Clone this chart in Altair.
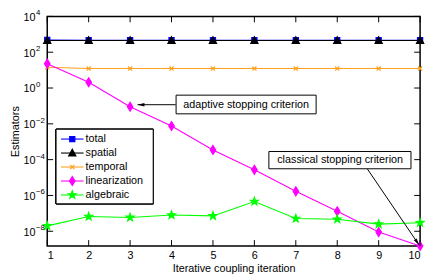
import altair as alt
import pandas as pd
import numpy as np

# ---------------- data ----------------
iters = [1, 2, 3, 4, 5, 6, 7, 8, 9, 10]
series_names = ["total", "spatial", "temporal", "linearization", "algebraic"]
total = [480, 465, 465, 465, 465, 465, 465, 465, 465, 465]
spatial = [455, 450, 450, 450, 450, 450, 450, 450, 450, 450]
temporal = [14.5, 12.2, 12.2, 12.2, 12.2, 12.2, 12.2, 12.2, 12.2, 12.2]
linearization = [23, 2.1, 0.09, 7.6e-3, 3.5e-4, 2.7e-5, 1.7e-6, 1.3e-7, 9e-9, 1.5e-9]
algebraic = [2.0e-8, 6.6e-8, 5.9e-8, 8.0e-8, 7.2e-8, 4.6e-7, 5.1e-8, 4.7e-8, 2.5e-8, 3.0e-8]

y_tick_vals = [1e4, 1e2, 1e0, 1e-2, 1e-4, 1e-6, 1e-8]
y_tick_exp = ["4", "2", "0", "\u22122", "\u22124", "\u22126", "\u22128"]

ann_text = ["adaptive stopping criterion", "classical stopping criterion"]
ann_x = [5.80, 8.07]
ann_y = [0.117, 9.4e-5]
box_x1 = [4.11, 6.35]
box_x2 = [7.49, 9.78]
box_y1 = [0.40, 2.85e-4]
box_y2 = [0.0362, 3.09e-5]
arrow_x1 = [4.10, 8.72]
arrow_y1 = [0.117, 3.2e-5]
arrow_x2 = [3.18, 9.976]
arrow_y2 = [0.117, 1.7e-9]

# ---------------- styling ----------------
colors = ["#0000ff", "#000000", "#ffa020", "#ff00ff", "#00ff00"]
FONT = "Liberation Sans"

def star(r_out=1.2, r_in=0.48):
    pts = []
    for k in range(10):
        r = r_out if k % 2 == 0 else r_in
        a = np.deg2rad(-90 + 36 * k)
        pts.append((r * np.cos(a), r * np.sin(a)))
    return "M" + "L".join(f"{x:.3f},{y:.3f}" for x, y in pts) + "Z"

marker_paths = [
    "M-0.75,-0.75H0.75V0.75H-0.75Z",
    "M0,-1.1L1.05,0.85H-1.05Z",
    "M-0.6,-0.6L0.6,0.6M-0.6,0.6L0.6,-0.6",
    "M0,-1.3L0.8,0L0,1.3L-0.8,0Z",
    star(),
]

W, H = 380, 234
ymin, ymax = 1.5e-9, 1e4

all_vals = [total, spatial, temporal, linearization, algebraic]
rows = []
for name, vals in zip(series_names, all_vals):
    for i, v in zip(iters, vals):
        rows.append({"iter": i, "value": v, "series": name})
df = pd.DataFrame(rows)

xs = alt.Scale(domain=[1, 10], nice=False, zero=False)
ys = alt.Scale(type="log", domain=[ymin, ymax], nice=False)

X = alt.X("iter:Q", scale=xs,
          axis=alt.Axis(values=iters, format="d", ticks=False, tickSize=0, domain=False, grid=False,
                        labelFont=FONT, labelFontSize=11, labelColor="black", labelPadding=4,
                        title="Iterative coupling iteration", titleFont=FONT, titleFontSize=11,
                        titleFontWeight="normal", titleColor="black", titleBaseline="alphabetic",
                        titleY=26))
Y = alt.Y("value:Q", scale=ys,
          axis=alt.Axis(labels=False, ticks=False, domain=False, grid=False,
                        title="Estimators", titleFont=FONT, titleFontSize=11,
                        titleFontWeight="normal", titleColor="black", titleX=-32, titleY=H / 2,
                        titleBaseline="middle", titleAlign="center", titleAngle=270))

sc_color = alt.Scale(domain=series_names, range=colors)
sc_shape = alt.Scale(domain=series_names, range=marker_paths)

lines = alt.Chart(df).mark_line(strokeWidth=1.1).encode(
    x=X, y=Y,
    stroke=alt.Stroke("series:N", scale=sc_color, legend=None),
    detail="series:N",
)

marker_layers = []
for name, col, path in zip(series_names, colors, marker_paths):
    marker_layers.append(
        alt.Chart(df).transform_filter(alt.datum.series == name)
        .mark_point(shape=path, size=49, opacity=1, strokeWidth=1.2, fill=col, stroke=col)
        .encode(x="iter:Q", y="value:Q")
    )

# ticks (inward, MATLAB style)
xt = pd.DataFrame({"iter": iters})
yt = pd.DataFrame({"value": y_tick_vals, "exp": y_tick_exp})
tk = 6
xt_bot = alt.Chart(xt).mark_rule(color="black", strokeWidth=1).encode(
    x=alt.X("iter:Q", scale=xs), y=alt.value(H), y2=alt.value(H - tk))
xt_top = alt.Chart(xt).mark_rule(color="black", strokeWidth=1).encode(
    x=alt.X("iter:Q", scale=xs), y=alt.value(0), y2=alt.value(tk))
yt_left = alt.Chart(yt).mark_rule(color="black", strokeWidth=1).encode(
    y=alt.Y("value:Q", scale=ys), x=alt.value(0), x2=alt.value(tk))
yt_right = alt.Chart(yt).mark_rule(color="black", strokeWidth=1).encode(
    y=alt.Y("value:Q", scale=ys), x=alt.value(W), x2=alt.value(W - tk))

ylab_base = alt.Chart(yt).mark_text(font=FONT, fontSize=11, align="right", baseline="middle",
                                     dy=1.5, color="black").encode(
    y=alt.Y("value:Q", scale=ys), x=alt.value(-12), text=alt.value("10"))
ylab_exp = alt.Chart(yt).mark_text(font=FONT, fontSize=8, align="left", baseline="middle",
                                    dy=-3, color="black").encode(
    y=alt.Y("value:Q", scale=ys), x=alt.value(-11.5), text="exp:N")

# annotations
ann = pd.DataFrame({"text": ann_text, "x": ann_x, "y": ann_y,
                    "bx1": box_x1, "bx2": box_x2, "by1": box_y1, "by2": box_y2,
                    "ax1": arrow_x1, "ay1": arrow_y1, "ax2": arrow_x2, "ay2": arrow_y2,
                    "ang": [270, 146]})
arrow_lines = alt.Chart(ann).mark_rule(color="black", strokeWidth=1).encode(
    x=alt.X("ax1:Q", scale=xs), y=alt.Y("ay1:Q", scale=ys),
    x2="ax2:Q", y2="ay2:Q")
arrow_heads = alt.Chart(ann).mark_point(shape="M0,0L-0.5,2L0.5,2Z", size=49, filled=True,
                                        color="black", opacity=1).encode(
    x=alt.X("ax2:Q", scale=xs), y=alt.Y("ay2:Q", scale=ys),
    angle=alt.Angle("ang:Q", scale=None))
boxes = alt.Chart(ann).mark_rect(fill="white", stroke="black", strokeWidth=1).encode(
    x=alt.X("bx1:Q", scale=xs), x2="bx2:Q",
    y=alt.Y("by1:Q", scale=ys), y2="by2:Q")
texts = alt.Chart(ann).mark_text(font=FONT, fontSize=11, color="black", baseline="middle").encode(
    x=alt.X("x:Q", scale=xs), y=alt.Y("y:Q", scale=ys), text="text:N")

plot = alt.layer(
    lines, *marker_layers,
    xt_bot, xt_top, yt_left, yt_right, ylab_base, ylab_exp,
    arrow_lines, arrow_heads, boxes, texts,
)

# ---------------- legend (MATLAB style: line + marker + label) ----------------
leg_df = pd.DataFrame({"series": series_names})
leg_y = alt.Y("series:N", scale=alt.Scale(type="point", domain=series_names, range=[125, 182],
                                          padding=0), axis=None)
leg_box = alt.Chart(leg_df).mark_rect(fill="white", stroke="black", strokeWidth=1).encode(
    x=alt.value(9), x2=alt.value(108), y=alt.value(115), y2=alt.value(191))
leg_lines = alt.Chart(leg_df).mark_rule(strokeWidth=1.1).encode(
    x=alt.value(14), x2=alt.value(37), y=leg_y,
    stroke=alt.Stroke("series:N", scale=sc_color, legend=None))
leg_marks = alt.Chart(leg_df).mark_point(size=49, opacity=1, strokeWidth=1.2).encode(
    x=alt.value(25.5), y="series:N",
    shape=alt.Shape("series:N", scale=sc_shape, legend=None),
    fill=alt.Fill("series:N", scale=sc_color, legend=None),
    stroke=alt.Stroke("series:N", scale=sc_color, legend=None))
leg_text = alt.Chart(leg_df).mark_text(font=FONT, fontSize=11, color="black", align="left",
                                       baseline="middle", dy=0.5).encode(
    x=alt.value(39), y="series:N", text="series:N")
legend = alt.layer(leg_box, leg_lines, leg_marks, leg_text)

chart = alt.layer(plot, legend).resolve_scale(y="independent").properties(
    width=W, height=H,
    autosize=alt.AutoSizeParams(type="none"),
    padding={"left": 40, "top": 6, "right": 5, "bottom": 28},
    background="white",
).configure_view(stroke="black", strokeWidth=1.5)

chart.save("out.html", embed_options={"renderer": "svg", "actions": False})
